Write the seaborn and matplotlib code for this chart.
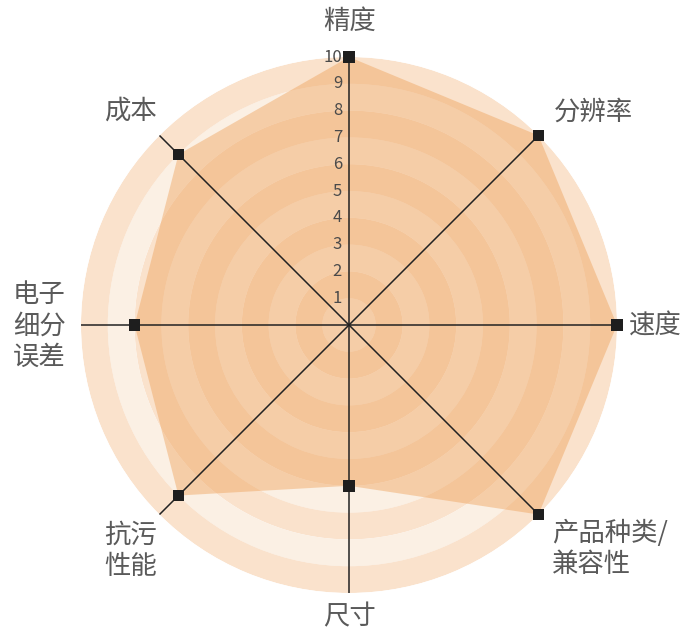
import numpy as np
import pandas as pd
import matplotlib
matplotlib.use("Agg")
import matplotlib.pyplot as plt
import matplotlib.transforms as mtransforms
import seaborn as sns

categories = ["精度", "分辨率", "速度", "产品种类/\n兼容性", "尺寸", "抗污\n性能", "电子\n细分\n误差", "成本"]
values = [10, 10, 10, 10, 6, 9, 8, 9]
r_ticks = [1, 2, 3, 4, 5, 6, 7, 8, 9, 10]

sns.set_theme(style="white")
plt.rcParams["font.family"] = ["Noto Sans CJK SC", "DejaVu Sans"]

W, H, DPI = 693, 633, 100
fig = plt.figure(figsize=(W / DPI, H / DPI), dpi=DPI)
cx, cy, R = 349, 325, 268
ax = fig.add_axes([(cx - R) / W, (H - cy - R) / H, 2 * R / W, 2 * R / H], projection="polar")
ax.set_theta_zero_location("N")
ax.set_theta_direction(-1)

# concentric alternating rings
light = "#fbf0e4"
dark = "#fae2cc"
for i in range(10):
    ax.bar(0, 1, width=2 * np.pi, bottom=i, color=(dark if i % 2 == 1 else light),
           edgecolor="none", linewidth=0, align="edge", zorder=1)

n = len(categories)
theta = np.arange(n) * 2 * np.pi / n
df = pd.DataFrame({"theta": theta, "value": values, "cat": categories})

# filled polygon
tt = np.append(theta, theta[0])
vv = np.append(values, values[0])
ax.fill(tt, vv, color="#ec9646", alpha=0.38, linewidth=0, zorder=2)

# spokes
for t in theta:
    ax.plot([t, t], [0, 10], color="#222222", lw=1.1, zorder=3)

# markers
sns.scatterplot(data=df, x="theta", y="value", marker="s", s=72, color="#1e1e1e",
                edgecolor="none", ax=ax, zorder=4, legend=False, clip_on=False)
ax.set_ylim(0, 10)
ax.set_axis_off()

# radial tick labels
off = mtransforms.offset_copy(ax.transData, fig=fig, x=-7, y=0, units="dots")
for r in r_ticks:
    ax.text(0, r, str(r), transform=off, ha="right", va="center", fontsize=12,
            color="#4a4a4a", fontweight="light", zorder=5)

# category labels at pixel targets (x, y, ha, va)
label_pos = [
    (350, 21, "center", "center"),
    (554, 112, "left", "center"),
    (629, 326, "left", "center"),
    (552, 549, "left", "center"),
    (350, 617, "center", "center"),
    (104, 551, "left", "center"),
    (13, 326, "left", "center"),
    (104, 111, "left", "center"),
]
for cat, (px, py, ha, va) in zip(categories, label_pos):
    fx, fy = px / W, (H - py) / H
    fig.text(fx, fy, cat, ha=ha, va=va, fontsize=19, color="#5a5a5a",
             fontweight="light", linespacing=1.2)

fig.savefig("out.png", dpi=DPI)
